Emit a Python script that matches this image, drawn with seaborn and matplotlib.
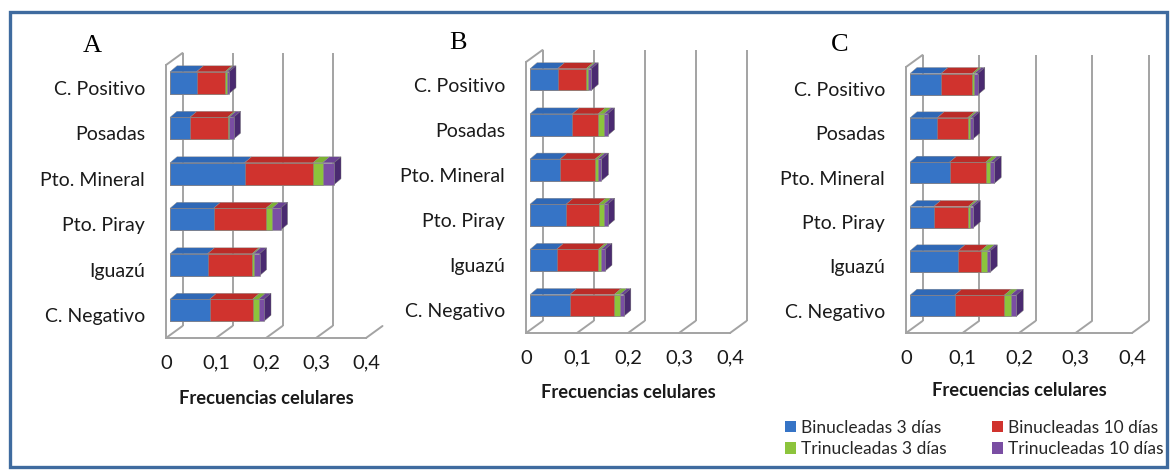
import numpy as np
import pandas as pd
import matplotlib
matplotlib.use("Agg")
import matplotlib.pyplot as plt
import matplotlib.transforms as mtransforms
from matplotlib.patches import Patch, Rectangle, Polygon
import seaborn as sns

# ---------------- data ----------------
categories = ["C. Positivo", "Posadas", "Pto. Mineral", "Pto. Piray", "Iguazú", "C. Negativo"]
series_names = ["Binucleadas 3 días", "Binucleadas 10 días",
                "Trinucleadas 3 días", "Trinucleadas 10 días"]
panel_titles = ["A", "B", "C"]
xtick_values = [0, 0.1, 0.2, 0.3, 0.4]
xtick_labels = ["0", "0,1", "0,2", "0,3", "0,4"]
xlabel_text = "Frecuencias celulares"

# Panel A
a_bin3 = [0.053, 0.040, 0.149, 0.087, 0.075, 0.079]
a_bin10 = [0.057, 0.075, 0.137, 0.105, 0.089, 0.086]
a_tri3 = [0.003, 0.003, 0.019, 0.012, 0.003, 0.012]
a_tri10 = [0.005, 0.009, 0.023, 0.017, 0.012, 0.011]
# Panel B
b_bin3 = [0.054, 0.083, 0.059, 0.071, 0.052, 0.078]
b_bin10 = [0.056, 0.051, 0.069, 0.064, 0.082, 0.087]
b_tri3 = [0.004, 0.011, 0.005, 0.010, 0.005, 0.011]
b_tri10 = [0.006, 0.007, 0.007, 0.007, 0.008, 0.008]
# Panel C
c_bin3 = [0.055, 0.048, 0.070, 0.042, 0.085, 0.079]
c_bin10 = [0.055, 0.054, 0.064, 0.061, 0.040, 0.088]
c_tri3 = [0.004, 0.004, 0.008, 0.004, 0.012, 0.011]
c_tri10 = [0.006, 0.005, 0.007, 0.005, 0.005, 0.010]

# ---------------- style ----------------
sns.set_style("white")
plt.rcParams["font.family"] = ["Lato", "DejaVu Sans"]

front_colors = ["#3674c6", "#d0332e", "#8cc43c", "#7a4ea3"]
top_colors = ["#2f68b6", "#bb2c28", "#7cb233", "#6a4294"]
side_colors = ["#234f8c", "#8e211e", "#5d8a25", "#4a2a70"]
grid_color = "#a3a3a3"
text_color = "#1a1a1a"

W, H = 1170, 470
fig = plt.figure(figsize=(W / 100, H / 100), dpi=100)

# panel geometry in pixels: left, right, top, bottom, xlabel centre y, title (x, y)
panels = [
    dict(l=166, r=366, t=65, b=338, xl=398, title=(92, 46), back04=False,
         data=(a_bin3, a_bin10, a_tri3, a_tri10)),
    dict(l=526, r=730, t=62, b=333, xl=393, title=(458, 43), back04=True,
         data=(b_bin3, b_bin10, b_tri3, b_tri10)),
    dict(l=906, r=1132, t=67, b=333, xl=391, title=(840, 45), back04=True,
         data=(c_bin3, c_bin10, c_tri3, c_tri10)),
]

bar_width = 0.48
back_dx, back_dy = 16.5, 12.0     # back wall offset (px)
bar_dx, bar_dy = 4.0, 5.0         # bar front face offset (px)
ext_dx, ext_dy = 7.0, 6.0         # bar depth (px)


def offset(ax, dx, dy):
    return ax.transData + mtransforms.ScaledTranslation(dx / 100, dy / 100, fig.dpi_scale_trans)


def draw_bars(ax, series):
    cum = np.cumsum(np.array(series), axis=0)
    front = offset(ax, bar_dx, bar_dy)
    # front faces through seaborn (cumulative, drawn from longest to shortest)
    for i in range(len(series) - 1, -1, -1):
        df = pd.DataFrame({"cat": categories, "val": cum[i]})
        n0 = len(ax.patches)
        sns.barplot(data=df, x="val", y="cat", orient="h", color=front_colors[i],
                    saturation=1, width=bar_width, edgecolor="#8a8a8a",
                    linewidth=0.4, ax=ax, zorder=3, err_kws={"linewidth": 0})
        for p in ax.patches[n0:]:
            p.set_transform(front)
            p.set_clip_on(False)
    return cum


def draw_depth(ax, cum):
    # top faces and end cap as parallelograms derived from the stacked values
    front = offset(ax, bar_dx, bar_dy)
    n_ser, n_cat = cum.shape
    for j in range(n_cat):
        y_top = j - bar_width / 2
        y_bot = j + bar_width / 2
        for i in range(n_ser):
            x0 = 0 if i == 0 else cum[i - 1][j]
            x1 = cum[i][j]
            (ax0, ay0), (ax1, ay1) = front.transform([(x0, y_top), (x1, y_top)])
            poly = Polygon([(ax0, ay0), (ax1, ay1), (ax1 + ext_dx, ay1 + ext_dy),
                            (ax0 + ext_dx, ay0 + ext_dy)], closed=True, transform=None,
                           facecolor=top_colors[i], edgecolor="#8a8a8a", linewidth=0.3,
                           zorder=2.5, clip_on=False)
            ax.add_artist(poly)
        # right end cap (last series)
        xe = cum[-1][j]
        (bx0, by0), (bx1, by1) = front.transform([(xe, y_top), (xe, y_bot)])
        cap = Polygon([(bx0, by0), (bx1, by1), (bx1 + ext_dx, by1 + ext_dy),
                       (bx0 + ext_dx, by0 + ext_dy)], closed=True, transform=None,
                      facecolor=side_colors[-1], edgecolor="#6a6a6a", linewidth=0.3,
                      zorder=2.5, clip_on=False)
        ax.add_artist(cap)


for k, pnl in enumerate(panels):
    rect = [pnl["l"] / W, 1 - pnl["b"] / H, (pnl["r"] - pnl["l"]) / W, (pnl["b"] - pnl["t"]) / H]
    ax = fig.add_axes(rect)
    ax.set_facecolor("none")

    cum = draw_bars(ax, pnl["data"])

    ax.set_xlim(0, 0.4)
    ax.set_ylim(len(categories) - 0.5, -0.5)
    y_bot, y_top = len(categories) - 0.5, -0.5

    draw_depth(ax, cum)

    # 3D walls: back-wall verticals, floor diagonals, top-left diagonal
    bt = offset(ax, back_dx, back_dy)
    lw = 1.4
    for v in xtick_values:
        if v < 0.4 or pnl["back04"]:
            ax.plot([v, v], [y_bot, y_top], color=grid_color, lw=lw, transform=bt,
                    clip_on=False, zorder=1, solid_capstyle="butt")
        x0, y0 = ax.transData.transform((v, y_bot))
        ax.plot([x0, x0 + back_dx], [y0, y0 + back_dy], color=grid_color, lw=lw,
                transform=None, clip_on=False, zorder=1)
    x0, y0 = ax.transData.transform((0, y_top))
    ax.plot([x0, x0 + back_dx], [y0, y0 + back_dy], color=grid_color, lw=lw,
            transform=None, clip_on=False, zorder=1)

    # axes, ticks and labels
    for s in ["top", "right"]:
        ax.spines[s].set_visible(False)
    for s in ["left", "bottom"]:
        ax.spines[s].set_color(grid_color)
        ax.spines[s].set_linewidth(lw)
    ax.set_xticks(xtick_values, labels=xtick_labels)
    ax.set_yticks(range(len(categories)), labels=categories)
    ax.set_yticks(np.arange(-0.5, len(categories), 1.0), minor=True)
    ax.tick_params(axis="y", which="major", length=0, pad=15, labelsize=14, labelcolor=text_color)
    ax.tick_params(axis="y", which="minor", length=5, width=lw, color=grid_color, direction="out")
    ax.tick_params(axis="x", length=4, width=lw, color=grid_color, direction="out",
                   pad=8, labelsize=14.5, labelcolor=text_color)
    ax.set_ylabel("")
    ax.set_xlabel(xlabel_text, fontsize=13.2, fontweight="bold", color=text_color)
    ax.xaxis.label.set_va("center")
    ax.xaxis.set_label_coords(0.5, (pnl["b"] - pnl["xl"]) / (pnl["b"] - pnl["t"]))

    fig.text(pnl["title"][0] / W, 1 - pnl["title"][1] / H, panel_titles[k],
             family="Liberation Serif", fontsize=19, ha="center", va="center", color="black")

# legend
handles = [Patch(facecolor=front_colors[i], edgecolor="none") for i in [0, 2, 1, 3]]
labels = [series_names[i] for i in [0, 2, 1, 3]]
fig.legend(handles, labels, ncol=2, loc="upper left",
           bbox_to_anchor=(776 / W, 1 - 411 / H), frameon=False, fontsize=12.5,
           handlelength=0.65, handleheight=0.65, handletextpad=0.3,
           columnspacing=2.6, labelspacing=0.3, borderpad=0)

# outer blue frame
fig.patches.append(Rectangle((10 / W, 3 / H), 1157 / W, 455 / H, transform=fig.transFigure,
                             fill=False, edgecolor="#3f6b9f", linewidth=2.4, zorder=10))

fig.savefig("out.png", dpi=100)
